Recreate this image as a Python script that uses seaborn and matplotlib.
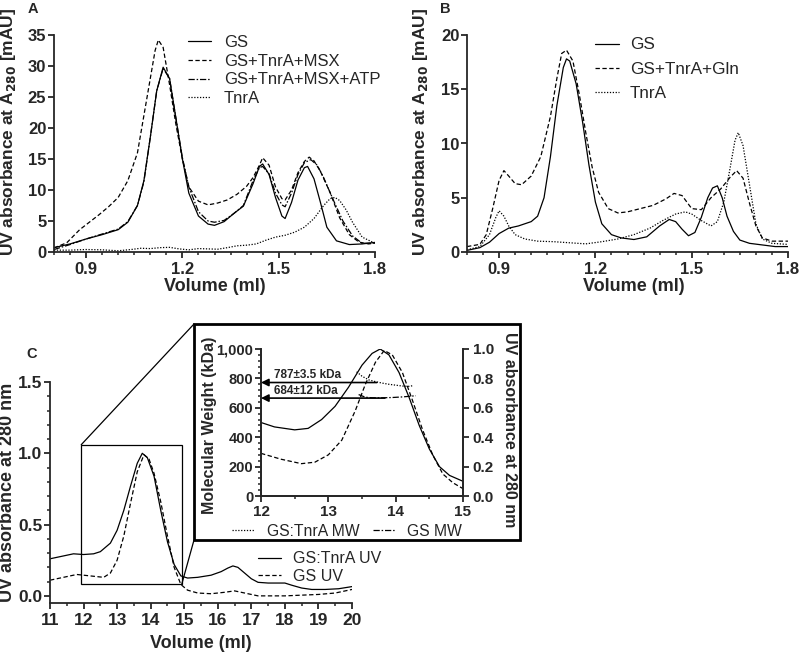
import numpy as np
import matplotlib
matplotlib.use("Agg")
import matplotlib.pyplot as plt
from matplotlib.ticker import FixedLocator, MultipleLocator, AutoMinorLocator, FuncFormatter
from matplotlib.patches import Rectangle, ConnectionPatch
import seaborn as sns

'panel A data (Volume in ml, A280 in mAU)'
a_x_gs = [0.80, 0.85, 0.90, 0.95, 1.00, 1.03, 1.06, 1.08, 1.10, 1.12, 1.14, 1.16, 1.18, 1.20, 1.22, 1.25, 1.28,
          1.30, 1.33, 1.36, 1.39, 1.42, 1.44, 1.45, 1.47, 1.49, 1.51, 1.52, 1.54, 1.56, 1.58, 1.59, 1.61, 1.63,
          1.65, 1.68, 1.72, 1.76, 1.80]
a_gs = [0.7, 1.3, 2.1, 2.8, 3.6, 4.8, 7.5, 11.5, 18.5, 26.0, 29.8, 28.0, 21.5, 15.0, 9.5, 5.8, 4.5,
        4.3, 4.9, 6.2, 7.4, 11.0, 13.8, 14.2, 12.5, 8.8, 5.8, 5.4, 8.0, 11.6, 13.6, 13.8, 11.8, 8.0,
        4.0, 1.8, 1.2, 1.3, 1.55]
a_x_msx = [0.80, 0.84, 0.88, 0.91, 0.94, 0.97, 1.00, 1.03, 1.06, 1.08, 1.10, 1.115, 1.125, 1.14, 1.16, 1.18,
           1.20, 1.22, 1.25, 1.28, 1.31, 1.34, 1.37, 1.40, 1.42, 1.44, 1.45, 1.47, 1.49, 1.51, 1.52, 1.54,
           1.56, 1.58, 1.595, 1.61, 1.63, 1.66, 1.69, 1.72, 1.75, 1.78, 1.80]
a_msx = [0.65, 1.5, 3.6, 4.8, 6.0, 7.3, 8.8, 11.5, 16.0, 22.0, 28.0, 32.5, 34.2, 33.0, 27.0, 20.5,
         15.0, 10.5, 8.2, 7.6, 7.9, 8.4, 9.3, 10.6, 12.0, 14.0, 15.2, 14.0, 10.5, 8.6, 8.4, 10.0,
         12.8, 14.6, 15.3, 14.7, 13.0, 9.6, 5.5, 2.8, 1.6, 1.3, 1.45]
a_x_atp = [0.80, 0.85, 0.90, 0.95, 1.00, 1.03, 1.06, 1.08, 1.10, 1.12, 1.14, 1.16, 1.18, 1.20, 1.22, 1.25, 1.28,
           1.30, 1.33, 1.36, 1.39, 1.42, 1.44, 1.45, 1.47, 1.49, 1.51, 1.52, 1.54, 1.56, 1.58, 1.60, 1.62,
           1.64, 1.67, 1.70, 1.73, 1.76, 1.80]
a_atp = [0.4, 1.2, 2.1, 2.9, 3.7, 4.9, 7.5, 11.3, 18.5, 26.0, 29.6, 28.0, 21.5, 15.2, 10.5, 6.5, 5.0,
         4.8, 5.1, 6.2, 7.5, 11.5, 13.6, 13.8, 12.6, 9.5, 7.6, 7.3, 9.5, 12.5, 14.4, 14.9, 14.0,
         12.0, 8.4, 5.0, 2.6, 1.4, 1.45]
a_x_tnra = [0.80, 0.85, 0.90, 0.95, 1.00, 1.04, 1.07, 1.10, 1.13, 1.16, 1.19, 1.22, 1.25, 1.28, 1.31, 1.34,
            1.37, 1.40, 1.43, 1.46, 1.49, 1.52, 1.55, 1.58, 1.61, 1.64, 1.66, 1.675, 1.69, 1.71, 1.73,
            1.76, 1.80]
a_tnra = [0.3, 0.3, 0.4, 0.35, 0.2, 0.4, 0.6, 0.55, 0.7, 0.75, 0.5, 0.35, 0.55, 0.5, 0.45, 0.7,
          1.0, 1.1, 1.3, 1.9, 2.4, 2.7, 3.2, 4.0, 5.4, 7.5, 8.6, 8.8, 8.3, 6.8, 4.8,
          2.4, 1.4]

'panel B data'
b_x_gs = [0.80, 0.84, 0.87, 0.90, 0.93, 0.96, 1.00, 1.02, 1.04, 1.06, 1.08, 1.10, 1.11, 1.12, 1.14, 1.16,
          1.18, 1.20, 1.22, 1.25, 1.28, 1.32, 1.36, 1.40, 1.43, 1.45, 1.47, 1.49, 1.51, 1.53, 1.55,
          1.565, 1.58, 1.595, 1.61, 1.63, 1.65, 1.68, 1.72, 1.76, 1.80]
b_gs = [0.15, 0.4, 0.9, 1.7, 2.2, 2.4, 2.8, 3.3, 5.0, 8.8, 13.5, 17.0, 17.8, 17.6, 15.5, 12.0,
        8.0, 4.6, 2.6, 1.6, 1.3, 1.15, 1.4, 2.4, 3.0, 2.8, 2.1, 1.5, 1.8, 3.2, 5.0,
        5.9, 6.1, 5.0, 3.3, 1.9, 1.1, 0.8, 0.65, 0.5, 0.5]
b_x_gln = [0.80, 0.84, 0.86, 0.88, 0.90, 0.915, 0.93, 0.95, 0.97, 1.00, 1.03, 1.06, 1.08, 1.095, 1.11,
           1.13, 1.15, 1.17, 1.19, 1.21, 1.24, 1.27, 1.30, 1.34, 1.38, 1.42, 1.445, 1.47, 1.50, 1.53,
           1.56, 1.59, 1.62, 1.64, 1.66, 1.68, 1.70, 1.72, 1.75, 1.80]
b_gln = [0.5, 0.7, 1.6, 4.0, 6.6, 7.5, 7.0, 6.3, 6.2, 7.0, 8.8, 12.5, 16.0, 18.3, 18.6,
         17.6, 14.5, 11.0, 7.8, 5.5, 4.0, 3.6, 3.7, 4.0, 4.3, 4.9, 5.4, 5.2, 4.0, 3.9,
         5.0, 5.8, 6.9, 7.5, 6.8, 4.5, 2.4, 1.3, 1.0, 1.0]
b_x_tnra = [0.80, 0.84, 0.87, 0.89, 0.90, 0.915, 0.93, 0.95, 0.98, 1.02, 1.07, 1.12, 1.17, 1.22, 1.27,
            1.32, 1.37, 1.41, 1.45, 1.48, 1.50, 1.53, 1.56, 1.58, 1.60, 1.62, 1.635, 1.645, 1.66, 1.68,
            1.70, 1.72, 1.75, 1.80]
b_tnra = [0.2, 0.5, 1.6, 3.2, 3.8, 3.3, 2.4, 1.6, 1.2, 1.0, 0.95, 0.85, 0.75, 0.95, 1.2,
          1.6, 2.2, 2.9, 3.5, 3.7, 3.5, 2.9, 2.4, 2.8, 4.6, 7.8, 10.3, 11.0, 9.8, 6.2,
          2.6, 1.2, 0.8, 0.7]

'panel C data (normalised UV)'
c_x_complex = [11.0, 11.4, 11.7, 12.0, 12.3, 12.5, 12.8, 13.0, 13.2, 13.4, 13.6, 13.75, 13.9, 14.1, 14.3,
               14.5, 14.7, 14.9, 15.1, 15.4, 15.8, 16.1, 16.3, 16.45, 16.6, 16.8, 17.0, 17.2, 17.5, 17.8,
               18.0, 18.2, 18.5, 18.8, 19.2, 19.6, 20.0]
c_complex = [0.26, 0.28, 0.295, 0.29, 0.295, 0.31, 0.37, 0.46, 0.6, 0.77, 0.93, 1.0, 0.97, 0.84, 0.6,
             0.38, 0.22, 0.14, 0.125, 0.13, 0.145, 0.17, 0.195, 0.21, 0.2, 0.16, 0.12, 0.095, 0.09, 0.09,
             0.09, 0.075, 0.055, 0.045, 0.045, 0.05, 0.065]
c_x_gs = [11.0, 11.4, 11.8, 12.2, 12.6, 12.8, 13.0, 13.2, 13.4, 13.6, 13.8, 13.95, 14.1, 14.3, 14.5,
          14.7, 14.9, 15.1, 15.4, 15.8, 16.2, 16.5, 16.8, 17.2, 17.6, 18.0, 18.5, 19.0, 19.5, 20.0]
c_gs = [0.11, 0.13, 0.15, 0.14, 0.13, 0.16, 0.25, 0.42, 0.65, 0.87, 0.99, 0.96, 0.86, 0.66, 0.42,
        0.2, 0.08, 0.04, 0.02, 0.015, 0.025, 0.035, 0.02, 0.0, 0.0, 0.0, 0.005, 0.01, 0.02, 0.045]

'inset (SEC-MALS)'
i_x_complex = [12.0, 12.2, 12.5, 12.7, 12.9, 13.1, 13.3, 13.5, 13.65, 13.77, 13.9, 14.05, 14.2, 14.35,
               14.5, 14.65, 14.8, 15.0]
i_complex = [0.50, 0.47, 0.45, 0.46, 0.52, 0.61, 0.74, 0.89, 0.97, 1.0, 0.96, 0.84, 0.67, 0.48,
             0.32, 0.2, 0.14, 0.1]
i_x_gs = [12.0, 12.3, 12.6, 12.8, 13.0, 13.2, 13.4, 13.55, 13.7, 13.83, 13.95, 14.1, 14.25, 14.4,
          14.55, 14.7, 14.85, 15.0]
i_gs = [0.29, 0.25, 0.22, 0.23, 0.28, 0.38, 0.58, 0.76, 0.91, 0.99, 0.96, 0.84, 0.65, 0.45,
        0.28, 0.15, 0.09, 0.05]
mw_x_complex = [13.42, 13.5, 13.6, 13.7, 13.8, 13.9, 14.0, 14.1, 14.2, 14.25]
mw_complex = [845, 815, 790, 778, 768, 760, 754, 748, 746, 750]
mw_x_gs = [13.45, 13.55, 13.65, 13.8, 13.95, 14.1, 14.2, 14.3]
mw_gs = [690, 672, 668, 668, 670, 674, 678, 682]
arrow_labels = ['787\u00b13.5 kDa', '684\u00b112 kDa']
arrow_mw = [772, 666]
arrow_end = [13.72, 13.84]
zoom_x = [11.93, 14.93]
zoom_y = [0.085, 1.06]

sns.set_style("ticks")
plt.rcParams['font.family'] = ['Liberation Sans', 'DejaVu Sans']
plt.rcParams['axes.linewidth'] = 1.3
for ax_name in ['xtick', 'ytick']:
    plt.rcParams[f'{ax_name}.major.width'] = 1.3
    plt.rcParams[f'{ax_name}.minor.width'] = 1.1
    plt.rcParams[f'{ax_name}.major.size'] = 4
    plt.rcParams[f'{ax_name}.minor.size'] = 2.5
    plt.rcParams[f'{ax_name}.direction'] = 'out'
plt.rcParams['xtick.major.pad'] = 3.5
plt.rcParams['ytick.major.pad'] = 1.5

solid = '-'
dashed = (0, (3.5, 2))
dashdot = (0, (5, 1.5, 1.2, 1.5))
dotted = (0, (1, 1.3))
lw = 0.9

fig = plt.figure(figsize=(8, 6.53), dpi=100)
W, H = 800, 653


def fig_axes(x0, y0, x1, y1):
    # pixel box (left, top of data, right, bottom) -> figure fraction
    return fig.add_axes([x0 / W, 1 - y1 / H, (x1 - x0) / W, (y1 - y0) / H])


def style_ticks(ax, size=10):
    for lab in ax.get_xticklabels() + ax.get_yticklabels():
        lab.set_fontweight('bold')
        lab.set_fontsize(size)


def line(ax, x, y, ls, label=None):
    sns.lineplot(x=x, y=y, ax=ax, color='black', lw=lw, linestyle=ls, label=label,
                 sort=False, estimator=None, legend=False)


'panel A'
axA = fig_axes(54, 35, 375, 252)
line(axA, a_x_gs, a_gs, solid, 'GS')
line(axA, a_x_msx, a_msx, dashed, 'GS+TnrA+MSX')
line(axA, a_x_atp, a_atp, dashdot, 'GS+TnrA+MSX+ATP')
line(axA, a_x_tnra, a_tnra, dotted, 'TnrA')
axA.set_xlim(0.8, 1.8)
axA.set_ylim(0, 35)
axA.xaxis.set_major_locator(FixedLocator([0.9, 1.2, 1.5, 1.8]))
axA.xaxis.set_minor_locator(MultipleLocator(0.05))
axA.yaxis.set_major_locator(MultipleLocator(5))
axA.set_xlabel('Volume (ml)', fontsize=13, fontweight='bold')
axA.set_ylabel('UV absorbance at A$_\\mathbf{280}$ [mAU]', fontsize=12.5, fontweight='bold')
axA.xaxis.set_label_coords(0.5, -0.118)
axA.yaxis.set_label_coords(-0.113, 0.553)
axA.legend(loc='upper left', bbox_to_anchor=(0.397, 1.03), frameon=False, fontsize=12,
           handlelength=1.35, labelspacing=0.22, handletextpad=0.8, borderaxespad=0)
style_ticks(axA, 12)
sns.despine(ax=axA)

'panel B'
axB = fig_axes(467, 35, 788, 252)
line(axB, b_x_gs, b_gs, solid, 'GS')
line(axB, b_x_gln, b_gln, dashed, 'GS+TnrA+Gln')
line(axB, b_x_tnra, b_tnra, dotted, 'TnrA')
axB.set_xlim(0.8, 1.8)
axB.set_ylim(0, 20)
axB.xaxis.set_major_locator(FixedLocator([0.9, 1.2, 1.5, 1.8]))
axB.xaxis.set_minor_locator(MultipleLocator(0.05))
axB.yaxis.set_major_locator(MultipleLocator(5))
axB.set_xlabel('Volume (ml)', fontsize=13, fontweight='bold')
axB.set_ylabel('UV absorbance at A$_\\mathbf{280}$ [mAU]', fontsize=12.5, fontweight='bold')
axB.xaxis.set_label_coords(0.52, -0.118)
axB.yaxis.set_label_coords(-0.115, 0.553)
axB.legend(loc='upper left', bbox_to_anchor=(0.379, 1.02), frameon=False, fontsize=12.3,
           handlelength=1.4, labelspacing=0.55, handletextpad=0.6, borderaxespad=0)
style_ticks(axB, 12)
sns.despine(ax=axB)

'panel C'
axC = fig_axes(50, 382, 352, 603)
line(axC, c_x_complex, c_complex, solid, 'GS:TnrA UV')
line(axC, c_x_gs, c_gs, dashed, 'GS UV')
axC.set_xlim(11, 20)
axC.set_ylim(-0.05, 1.5)
axC.xaxis.set_major_locator(MultipleLocator(1))
axC.xaxis.set_minor_locator(MultipleLocator(0.5))
axC.yaxis.set_major_locator(FixedLocator([0.0, 0.5, 1.0, 1.5]))
axC.yaxis.set_minor_locator(FixedLocator(np.arange(0, 1.51, 0.1)))
axC.yaxis.set_major_formatter(FuncFormatter(lambda v, p: f'{v:.1f}'))
axC.set_xlabel('Volume (ml)', fontsize=13, fontweight='bold')
axC.set_ylabel('UV absorbance at 280 nm', fontsize=13, fontweight='bold')
axC.xaxis.set_label_coords(0.5, -0.145)
axC.yaxis.set_label_coords(-0.113, 0.5)
axC.legend(loc='upper left', bbox_to_anchor=(0.666, 0.262), frameon=False, fontsize=11.5,
           handlelength=1.45, labelspacing=0.15, handletextpad=0.8, borderaxespad=0)
style_ticks(axC, 12.5)
sns.despine(ax=axC)

axC.add_patch(Rectangle((zoom_x[0], zoom_y[0]), zoom_x[1] - zoom_x[0], zoom_y[1] - zoom_y[0],
                        fill=False, lw=0.9, ec='black'))

'inset frame'
frame = (194, 324, 520, 540)
fig.patches.append(Rectangle((frame[0] / W, 1 - frame[3] / H), (frame[2] - frame[0]) / W,
                             (frame[3] - frame[1]) / H, transform=fig.transFigure,
                             fill=False, lw=2, ec='black', zorder=5))
for (zx, zy), (fx, fy) in [((zoom_x[0], zoom_y[1]), (frame[0], frame[1])),
                           ((zoom_x[1], zoom_y[0]), (frame[0], frame[3]))]:
    fig.add_artist(ConnectionPatch(xyA=(zx, zy), coordsA=axC.transData,
                                   xyB=(fx / W, 1 - fy / H), coordsB=fig.transFigure,
                                   color='black', lw=0.9))

'inset axes'
axI = fig_axes(261, 349, 463, 496)
axI2 = axI.twinx()
line(axI2, i_x_complex, i_complex, solid)
line(axI2, i_x_gs, i_gs, dashed)
line(axI, mw_x_complex, mw_complex, dotted, 'GS:TnrA MW')
line(axI, mw_x_gs, mw_gs, dashdot, 'GS MW')
axI.set_xlim(12, 15)
axI.set_ylim(0, 1000)
axI2.set_ylim(0, 1.0)
axI.xaxis.set_major_locator(MultipleLocator(1))
axI.xaxis.set_minor_locator(MultipleLocator(0.5))
axI.yaxis.set_major_locator(MultipleLocator(200))
axI.yaxis.set_minor_locator(AutoMinorLocator(5))
axI.yaxis.set_major_formatter(FuncFormatter(lambda v, p: f'{v:,.0f}'))
axI2.yaxis.set_major_locator(MultipleLocator(0.2))
axI2.yaxis.set_major_formatter(FuncFormatter(lambda v, p: f'{v:.1f}'))
axI.tick_params(axis='x', pad=2.5)
axI2.tick_params(axis='y', pad=3)
axI.set_ylabel('Molecular Weight (kDa)', fontsize=11.5, fontweight='bold')
axI.yaxis.set_label_coords(-0.218, 0.48)
axI2.set_ylabel('UV absorbance at 280 nm', fontsize=11.5, fontweight='bold', rotation=270)
axI2.yaxis.set_label_coords(1.265, 0.45)
for a in (axI, axI2):
    a.spines['top'].set_visible(False)
style_ticks(axI, 11)
style_ticks(axI2, 11)
for lab in axI.get_yticklabels():
    lab.set_fontsize(10.5)
axI.set_xlabel('')
for mw, x_end, lab in zip(arrow_mw, arrow_end, arrow_labels):
    axI.annotate('', xy=(12.0, mw), xytext=(x_end, mw),
                 arrowprops=dict(arrowstyle='-|>', color='black', lw=1.2, mutation_scale=11,
                                 shrinkA=0, shrinkB=0))
    axI.text(12.2, mw + 10, lab, fontsize=8.5, fontweight='bold', va='bottom', ha='left')
axI.legend(loc='center', bbox_to_anchor=(0.426, -0.24), ncol=2, frameon=False, fontsize=11.3,
           handlelength=1.4, handletextpad=0.8, columnspacing=0.85, borderaxespad=0)

'panel letters'
fig.text(33 / W, 1 - 9 / H, 'A', fontsize=10.5, fontweight='bold', ha='center', va='center')
fig.text(445 / W, 1 - 9 / H, 'B', fontsize=10.5, fontweight='bold', ha='center', va='center')
fig.text(32 / W, 1 - 354 / H, 'C', fontsize=10.5, fontweight='bold', ha='center', va='center')

fig.savefig('out.png', dpi=100)
